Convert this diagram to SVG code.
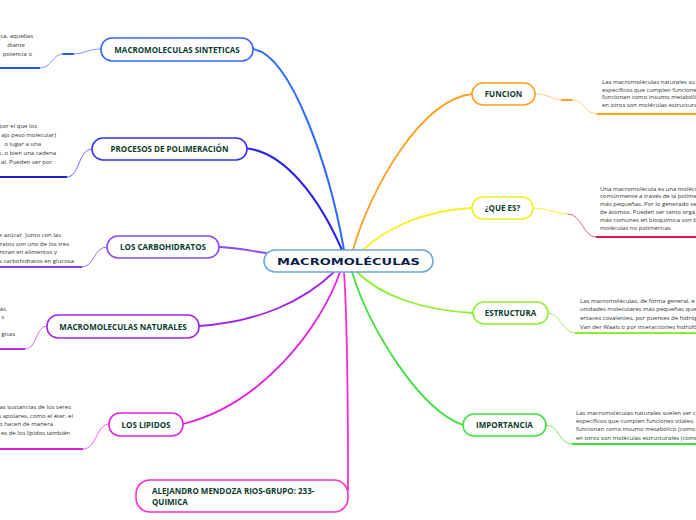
<svg xmlns="http://www.w3.org/2000/svg" width="696" height="520" viewBox="0 0 696 520">
<style>
.node rect{fill:#fff;stroke-width:1.6}
.lbl{font-family:"Open Sans","Noto Sans",sans-serif;font-weight:bold;font-size:8px;fill:#0d3b2e;text-anchor:middle}
.txt{font-family:"Open Sans","Noto Sans",sans-serif;font-size:6px;fill:#333}
.txt.e{text-anchor:end}
.c{fill:none;stroke-linecap:round}
.ul{fill:none;stroke-width:2}
</style>
<rect width="696" height="520" fill="#fff"/>
<g id="connectors">
<path class="c" d="M253,49 C292,55 330,170 344,250" stroke="#2e6bff" stroke-width="2"/>
<path class="c" d="M243,148 C285,150 320,200 342,250" stroke="#2a22e8" stroke-width="2"/>
<path class="c" d="M219,247 C240,248 250,251 266,253" stroke="#8a48f0" stroke-width="1.8"/>
<path class="c" d="M199,326 C260,322 305,300 334,272" stroke="#a424e6" stroke-width="1.8"/>
<path class="c" d="M183,424 C260,405 320,330 340,272" stroke="#e222e0" stroke-width="1.8"/>
<path class="c" d="M344,272 C348,330 348,420 348,490" stroke="#ff2ec8" stroke-width="1.8"/>
<path class="c" d="M472,94 C420,100 370,190 353,250" stroke="#ffa020" stroke-width="1.8"/>
<path class="c" d="M472,208 C420,210 382,232 363,250" stroke="#f4f020" stroke-width="1.8"/>
<path class="c" d="M473,313 C420,310 380,295 357,272" stroke="#8ef030" stroke-width="1.8"/>
<path class="c" d="M463,425 C420,410 370,330 352,272" stroke="#40e040" stroke-width="1.8"/>
<path class="c" d="M101,49 C88,49 84,54 73,54" stroke="#7a98ff" stroke-width="1"/>
<path class="c" d="M73,54 L63,54" stroke="#2255ee" stroke-width="2"/>
<path class="c" d="M63,54 C52,54 52,68 40,68" stroke="#7a98ff" stroke-width="1"/>
<path class="ul" d="M40,68 L0,68" stroke="#2255ee"/>
<path class="c" d="M92,149 C78,149 80,177 67,177" stroke="#6a6af8" stroke-width="1"/>
<path class="ul" d="M67,177 L0,177" stroke="#2222cc"/>
<path class="c" d="M107,247 C93,247 95,267 82,267" stroke="#a070ff" stroke-width="1"/>
<path class="ul" d="M82,267 L0,267" stroke="#8040f0"/>
<path class="c" d="M47,326 C35,326 38,349 25,349" stroke="#c870f4" stroke-width="1"/>
<path class="ul" d="M25,349 L0,349" stroke="#b030e8"/>
<path class="c" d="M109,424 C96,424 97,449 83,449" stroke="#f060f0" stroke-width="1"/>
<path class="ul" d="M83,449 L0,449" stroke="#e020e0"/>
<path class="c" d="M535,94 C548,94 553,100 562,100" stroke="#ffcc80" stroke-width="1"/>
<path class="c" d="M562,100 L572,100" stroke="#ffa020" stroke-width="2"/>
<path class="c" d="M572,100 C585,100 585,114 597,114" stroke="#ffcc80" stroke-width="1"/>
<path class="ul" d="M597,114 L696,114" stroke="#ffa500"/>
<path class="c" d="M533,208 C548,208 556,214 568,214" stroke="#f0f040" stroke-width="1"/>
<path class="c" d="M568,214 C582,214 583,237 596,237" stroke="#e06080" stroke-width="1"/>
<path class="ul" d="M596,237 L696,237" stroke="#e0184a"/>
<path class="c" d="M548,313 C561,313 562,333 575,333" stroke="#a8f060" stroke-width="1"/>
<path class="ul" d="M575,333 L696,333" stroke="#88ee30"/>
<path class="c" d="M546,425 C559,425 559,444 572,444" stroke="#70ee60" stroke-width="1"/>
<path class="ul" d="M572,444 L696,444" stroke="#40e040"/>
</g>
<g id="center" class="node">
<rect x="264" y="250" width="169" height="22" rx="11" stroke="#6aa8d8"/>
<text x="277" y="265" textLength="143" lengthAdjust="spacingAndGlyphs" font-family="DejaVu Sans" font-weight="bold" font-size="9.5" fill="#0b1f4a">MACROMOLÉCULAS</text>
</g>
<g id="sinteticas" class="node">
<rect x="101" y="38" width="152" height="23" rx="11" stroke="#3366ff"/>
<text class="lbl" x="177" y="52.5">MACROMOLECULAS SINTETICAS</text>
</g>
<g id="polimeracion" class="node">
<rect x="92" y="138" width="155" height="22" rx="11" stroke="#3333ee"/>
<text class="lbl" x="169.5" y="152">PROCESOS DE POLIMERACIÓN</text>
</g>
<g id="carbohidratos" class="node">
<rect x="107" y="236" width="112" height="22" rx="11" stroke="#8a48f0"/>
<text class="lbl" x="163" y="250">LOS CARBOHIDRATOS</text>
</g>
<g id="naturales" class="node">
<rect x="47" y="315" width="152" height="23" rx="11" stroke="#a424e6"/>
<text class="lbl" x="123" y="329.5">MACROMOLECULAS NATURALES</text>
</g>
<g id="lipidos" class="node">
<rect x="109" y="413" width="74" height="23" rx="11" stroke="#e222e0"/>
<text class="lbl" x="146" y="427.5">LOS LIPIDOS</text>
</g>
<g id="alejandro" class="node">
<rect x="136" y="480" width="212" height="32" rx="14" stroke="#ff2ec8"/>
<text class="lbl" x="152" y="494" style="text-anchor:start">ALEJANDRO MENDOZA RIOS-GRUPO: 233-</text>
<text class="lbl" x="152" y="505" style="text-anchor:start">QUIMICA</text>
</g>
<g id="funcion" class="node">
<rect x="472" y="83" width="63" height="22" rx="11" stroke="#ffa020"/>
<text class="lbl" x="503.5" y="97">FUNCION</text>
</g>
<g id="quees" class="node">
<rect x="472" y="197" width="61" height="22" rx="11" stroke="#f0f020"/>
<text class="lbl" x="502.5" y="211">¿QUE ES?</text>
</g>
<g id="estructura" class="node">
<rect x="473" y="302" width="75" height="22" rx="11" stroke="#8ef030"/>
<text class="lbl" x="510.5" y="316">ESTRUCTURA</text>
</g>
<g id="importancia" class="node">
<rect x="463" y="414" width="83" height="22" rx="11" stroke="#40e040"/>
<text class="lbl" x="504.5" y="428">IMPORTANCIA</text>
</g>
<g id="text-sinteticas">
<text class="txt e" x="33" y="37.5">ca, aquellas</text>
<text class="txt e" x="25" y="46.5">diante</text>
<text class="txt e" x="32" y="55.5">potencia o</text>
</g>
<g id="text-polimeracion">
<text class="txt e" x="37" y="128">por el que los</text>
<text class="txt e" x="56" y="137">ajo peso molecular)</text>
<text class="txt e" x="41" y="146">o lugar a una</text>
<text class="txt e" x="56" y="155">o, o bien una cadena</text>
<text class="txt e" x="52" y="163.5">al. Pueden ser por</text>
</g>
<g id="text-carbohidratos">
<text class="txt e" x="61" y="237">e azúcar. Junto con las</text>
<text class="txt e" x="69" y="245.5">ratos son uno de los tres</text>
<text class="txt e" x="57" y="254.2">ntran en alimentos y</text>
<text class="txt e" x="74" y="262.5">s carbohidratos en glucosa</text>
</g>
<g id="text-naturales">
<text class="txt e" x="6" y="310.5">ás</text>
<text class="txt e" x="4" y="318.5">s</text>
<text class="txt e" x="15" y="335.5">gicas</text>
</g>
<g id="text-lipidos">
<text class="txt e" x="71" y="408.5">as sustancias de los seres</text>
<text class="txt e" x="73" y="417.5">s apolares, como el éter, el</text>
<text class="txt e" x="53" y="426">o hacen de manera</text>
<text class="txt e" x="70" y="435">es de los lípidos también</text>
</g>
<g id="text-funcion">
<text class="txt" x="602" y="84">Las macromoléculas naturales su</text>
<text class="txt" x="602" y="91.7">específicos que cumplen funcione</text>
<text class="txt" x="602" y="99.3">funcionan como insumo metabólic</text>
<text class="txt" x="602" y="107">en otros son moléculas estructura</text>
</g>
<g id="text-quees">
<text class="txt" x="600" y="190.5">Una macromolécula es una molécu</text>
<text class="txt" x="600" y="198.3">comúnmente a través de la polime</text>
<text class="txt" x="600" y="206.2">más pequeñas. Por lo generado se</text>
<text class="txt" x="600" y="214">de átomos. Pueden ser tanto orgá</text>
<text class="txt" x="600" y="221.8">más comunes en bioquímica son b</text>
<text class="txt" x="600" y="230">moléculas no poliméricas</text>
</g>
<g id="text-estructura">
<text class="txt" x="580" y="302.5">Las macromoléculas, de forma general, e</text>
<text class="txt" x="580" y="311.2">unidades moleculares más pequeñas que</text>
<text class="txt" x="580" y="320.2">enlaces covalentes, por puentes de hidróg</text>
<text class="txt" x="580" y="328.5">Van der Waals o por interacciones hidrofó</text>
</g>
<g id="text-importancia">
<text class="txt" x="576" y="414.5">Las macromoléculas naturales suelen ser c</text>
<text class="txt" x="576" y="422.5">específicos que cumplen funciones vitales.</text>
<text class="txt" x="576" y="431">funcionan como insumo metabólico (como</text>
<text class="txt" x="576" y="440">en otros son moléculas estructurales (como</text>
</g>
</svg>
